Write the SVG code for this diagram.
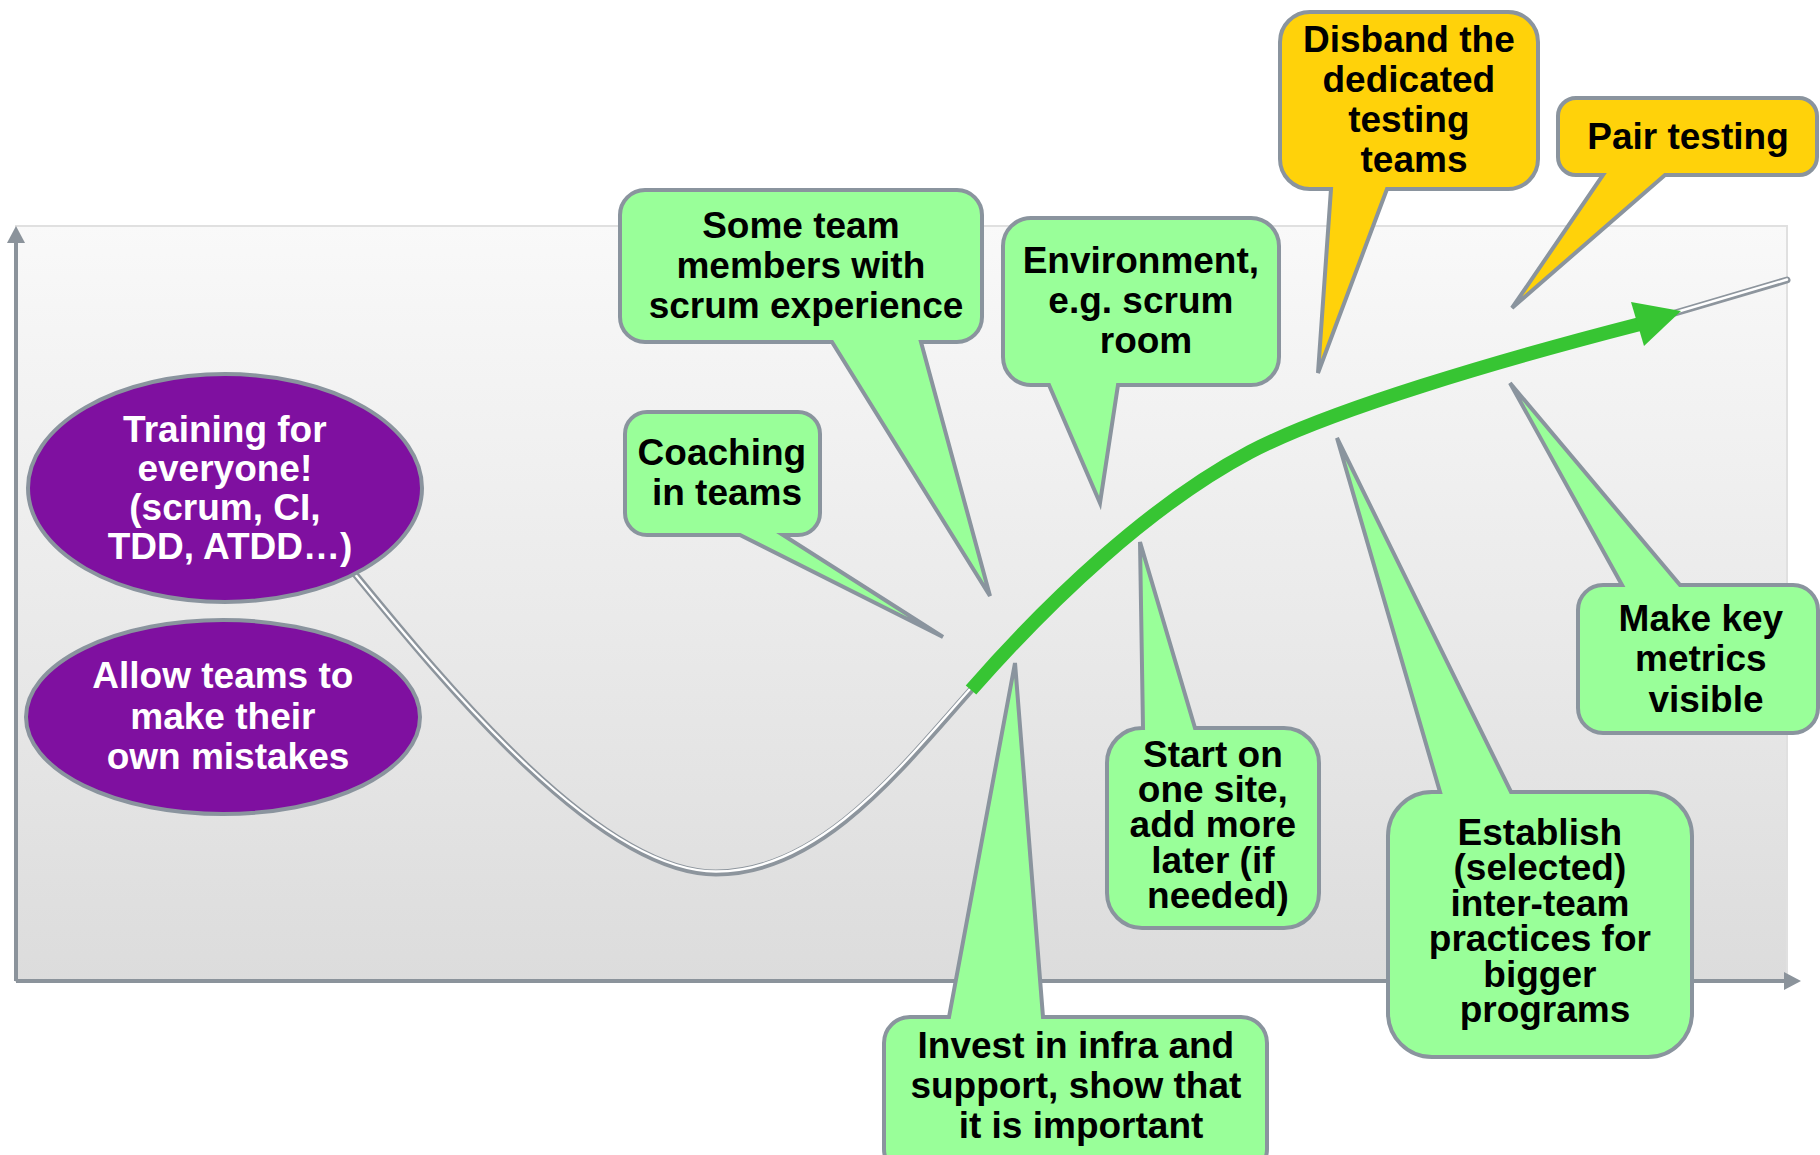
<svg xmlns="http://www.w3.org/2000/svg" width="1820" height="1155" viewBox="0 0 1820 1155">
  <defs>
    <linearGradient id="chartBg" x1="0" y1="0" x2="0" y2="1">
      <stop offset="0" stop-color="#f9f9f9"/>
      <stop offset="1" stop-color="#dcdcdc"/>
    </linearGradient>
  </defs>
  <style>
    .axis { stroke: #8b939b; stroke-width: 4; fill: none; }
    .axis-head { fill: #8b939b; }
    .callout { stroke: #8a949e; stroke-width: 4; stroke-linejoin: miter; }
    .green { fill: #99ff99; }
    .gold { fill: #ffd20a; }
    .oval { fill: #7f10a0; stroke: #8a949e; stroke-width: 4; }
    .label { font-family: "Liberation Sans", Arial, sans-serif; font-weight: bold; font-size: 37px; text-anchor: middle; fill: #000000; }
    .label.light { fill: #ffffff; }
    .track { fill: none; stroke: #8d959d; stroke-width: 7; stroke-linecap: round; }
    .track-shine { fill: none; stroke: #ffffff; stroke-width: 2.4; stroke-linecap: round; }
    .rise { fill: none; stroke: #37c533; stroke-width: 14; }
  </style>

  <rect width="1820" height="1155" fill="#ffffff"/>

  <!-- chart area -->
  <g id="chart">
    <rect x="16" y="226" width="1771" height="755" fill="url(#chartBg)" stroke="#e0e0e0" stroke-width="2"/>
    <line class="axis" x1="16" y1="981" x2="16" y2="240"/>
    <polygon class="axis-head" points="16,226 7,243 25,243"/>
    <line class="axis" x1="16" y1="981" x2="1786" y2="981"/>
    <polygon class="axis-head" points="1801,981 1784,972 1784,990"/>
  </g>

  <!-- adoption curve -->
  <g id="connectors">
    <path class="track" d="M350,568 C450,690 600,873 716,873 C820,873 900,770 971,690"/>
    <path class="track-shine" d="M349,567 C449,689 600,871.5 716,871.5 C819,871.5 899,769 970,689"/>
    <path class="track" d="M1675,313 L1787,280"/>
    <path class="track-shine" d="M1675,312.5 L1787,279.5"/>
    <path class="rise" d="M971,690 C1050,600 1150,505 1250,452 C1330,410 1500,360 1640,324"/>
    <polygon fill="#37c533" points="1681,311 1631,302 1644,346"/>
  </g>

  <!-- ovals -->
  <g id="training">
    <ellipse class="oval" cx="225" cy="488" rx="197" ry="114"/>
    <text class="label light">
      <tspan x="230" y="442">Training for</tspan>
      <tspan x="230" y="481">everyone!</tspan>
      <tspan x="230" y="520">(scrum, CI,</tspan>
      <tspan x="230" y="559">TDD, ATDD…)</tspan>
    </text>
  </g>
  <g id="allow-mistakes">
    <ellipse class="oval" cx="223" cy="717" rx="197" ry="97"/>
    <text class="label light">
      <tspan x="228" y="688">Allow teams to</tspan>
      <tspan x="228" y="729">make their</tspan>
      <tspan x="228" y="769">own mistakes</tspan>
    </text>
  </g>

  <!-- callouts with tail on the bottom edge -->
  <g id="scrum-experience">
    <path class="callout green" d="M645,190 H957 A25,25 0 0 1 982,215 V317 A25,25 0 0 1 957,342 H921 L990,596 L832,342 H645 A25,25 0 0 1 620,317 V215 A25,25 0 0 1 645,190 Z"/>
    <text class="label">
      <tspan x="806" y="238">Some team</tspan>
      <tspan x="806" y="278">members with</tspan>
      <tspan x="806" y="318">scrum experience</tspan>
    </text>
  </g>
  <g id="coaching">
    <path class="callout green" d="M647,412 H798 A22,22 0 0 1 820,434 V513 A22,22 0 0 1 798,535 H783 L943,637 L740,535 H647 A22,22 0 0 1 625,513 V434 A22,22 0 0 1 647,412 Z"/>
    <text class="label">
      <tspan x="727" y="465">Coaching</tspan>
      <tspan x="727" y="505">in teams</tspan>
    </text>
  </g>
  <g id="environment">
    <path class="callout green" d="M1031,218 H1251 A28,28 0 0 1 1279,246 V357 A28,28 0 0 1 1251,385 H1118 L1100,503 L1049,385 H1031 A28,28 0 0 1 1003,357 V246 A28,28 0 0 1 1031,218 Z"/>
    <text class="label">
      <tspan x="1146" y="273">Environment,</tspan>
      <tspan x="1146" y="313">e.g. scrum</tspan>
      <tspan x="1146" y="353">room</tspan>
    </text>
  </g>
  <g id="disband">
    <path class="callout gold" d="M1310,12 H1508 A30,30 0 0 1 1538,42 V159 A30,30 0 0 1 1508,189 H1387 L1318,373 L1331,189 H1310 A30,30 0 0 1 1280,159 V42 A30,30 0 0 1 1310,12 Z"/>
    <text class="label">
      <tspan x="1414" y="52">Disband the</tspan>
      <tspan x="1414" y="92">dedicated</tspan>
      <tspan x="1414" y="132">testing</tspan>
      <tspan x="1414" y="172">teams</tspan>
    </text>
  </g>
  <g id="pair-testing">
    <path class="callout gold" d="M1576,98 H1799 A18,18 0 0 1 1817,116 V157 A18,18 0 0 1 1799,175 H1665 L1512,308 L1603,175 H1576 A18,18 0 0 1 1558,157 V116 A18,18 0 0 1 1576,98 Z"/>
    <text class="label" x="1688" y="149">Pair testing</text>
  </g>

  <!-- callouts with tail on the top edge -->
  <g id="key-metrics">
    <path class="callout green" d="M1603,585 H1622 L1510,383 L1680,585 H1793 A25,25 0 0 1 1818,610 V708 A25,25 0 0 1 1793,733 H1603 A25,25 0 0 1 1578,708 V610 A25,25 0 0 1 1603,585 Z"/>
    <text class="label">
      <tspan x="1706" y="631">Make key</tspan>
      <tspan x="1706" y="671">metrics</tspan>
      <tspan x="1706" y="712">visible</tspan>
    </text>
  </g>
  <g id="inter-team">
    <path class="callout green" d="M1432,792 H1440 L1337,438 L1511,792 H1648 A44,44 0 0 1 1692,836 V1013 A44,44 0 0 1 1648,1057 H1432 A44,44 0 0 1 1388,1013 V836 A44,44 0 0 1 1432,792 Z"/>
    <text class="label">
      <tspan x="1545" y="845">Establish</tspan>
      <tspan x="1545" y="880">(selected)</tspan>
      <tspan x="1545" y="916">inter-team</tspan>
      <tspan x="1545" y="951">practices for</tspan>
      <tspan x="1545" y="987">bigger</tspan>
      <tspan x="1545" y="1022">programs</tspan>
    </text>
  </g>
  <g id="one-site">
    <path class="callout green" d="M1142,728 H1143 L1140,542 L1195,728 H1284 A35,35 0 0 1 1319,763 V893 A35,35 0 0 1 1284,928 H1142 A35,35 0 0 1 1107,893 V763 A35,35 0 0 1 1142,728 Z"/>
    <text class="label">
      <tspan x="1218" y="767">Start on</tspan>
      <tspan x="1218" y="802">one site,</tspan>
      <tspan x="1218" y="837">add more</tspan>
      <tspan x="1218" y="873">later (if</tspan>
      <tspan x="1218" y="908">needed)</tspan>
    </text>
  </g>
  <g id="infra-support">
    <path class="callout green" d="M910,1017 H949 L1015,663 L1043,1017 H1241 A26,26 0 0 1 1267,1043 V1149 A26,26 0 0 1 1241,1175 H910 A26,26 0 0 1 884,1149 V1043 A26,26 0 0 1 910,1017 Z"/>
    <text class="label">
      <tspan x="1081" y="1058">Invest in infra and</tspan>
      <tspan x="1081" y="1098">support, show that</tspan>
      <tspan x="1081" y="1138">it is important</tspan>
    </text>
  </g>
</svg>
